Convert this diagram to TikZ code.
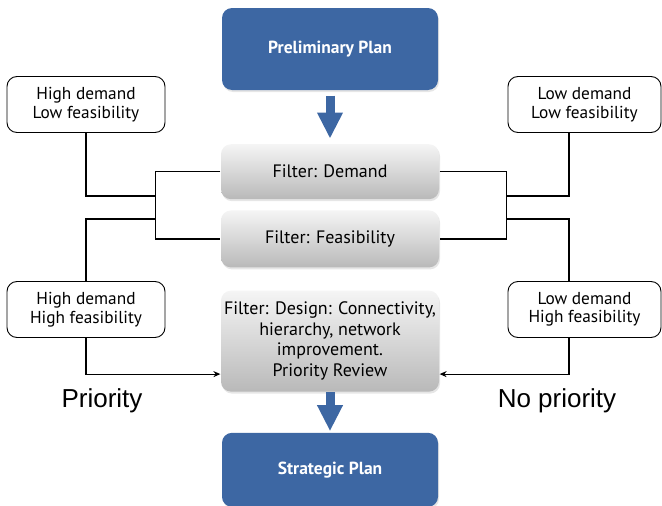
\documentclass[tikz,border=0pt]{standalone}
\usepackage{fontspec}
\setmainfont{PT Sans}
\newfontfamily\labelfont{Liberation Sans}
\usetikzlibrary{positioning,arrows.meta,shadows}
\definecolor{planblue}{RGB}{61,103,163}
\tikzset{
	plan/.style={x=1pt,y=-1pt,line width=1.2pt,>={Stealth[length=7pt,width=6pt]}},
	stage/.style={rectangle,rounded corners=10pt,fill=planblue,text=white,
		minimum width=216pt,minimum height=82pt,font=\fontsize{17.5}{20}\selectfont\bfseries,
		drop shadow={opacity=0.2,shadow xshift=1pt,shadow yshift=-2pt}},
	filter/.style={rectangle,rounded corners=10pt,top color=gray!8,bottom color=gray!55,
		minimum width=218pt,minimum height=56pt,align=center,inner sep=2pt,
		font=\fontsize{18}{20.5}\selectfont,
		drop shadow={opacity=0.2,shadow xshift=1pt,shadow yshift=-2pt}},
	outcome/.style={rectangle,draw,line width=0.9pt,rounded corners=10pt,minimum width=158pt,
		minimum height=56pt,align=center,font=\fontsize{17.3}{18.5}\selectfont},
	note/.style={font=\labelfont\fontsize{26}{30}\selectfont},
	flow/.style={-{Triangle[length=26pt,width=24pt]},line width=9pt,draw=planblue}
}

\begin{document}
\begin{tikzpicture}[plan]
	\useasboundingbox (0,0) rectangle (662,506);

	\node[stage] (prelim) at (330,49) {Preliminary Plan};
	\node[filter, minimum height=55pt] (dem) [below=53pt of prelim] {Filter: Demand};
	\node[filter, minimum height=57pt] (feas) [below=10pt of dem] {Filter: Feasibility};
	\node[filter, minimum height=101pt] (design) [below=22pt of feas]
		{Filter: Design: Connectivity,\\hierarchy, network\\improvement.\\Priority Review};
	\node[stage, minimum height=74pt] (strat) [below=40pt of design] {Strategic Plan};

	\node[outcome] (hl) at (86,104.5) {High demand\\Low feasibility};
	\node[outcome, minimum width=153pt] (ll) at (584.5,104.5) {Low demand\\Low feasibility};
	\node[outcome] (hh) at (86,309.5) {High demand\\High feasibility};
	\node[outcome, minimum width=153pt] (lh) at (584.5,309.5) {Low demand\\High feasibility};

	\node[note] (pri) at (102,401) {Priority};
	\node[note] (nopri) at (557,401) {No priority};

	\coordinate (lup) at (155,196);
	\coordinate (ldown) at (155,219);
	\coordinate (rup) at (506,196);
	\coordinate (rdown) at (506,219);

	\draw[flow, shorten <=5pt, shorten >=5pt] (prelim) -- (dem);
	\draw[flow, shorten <=0pt, shorten >=1pt] (design) -- (strat);

	% left branch
	\draw (dem.west) -- ++(-65,0) |- (feas.west);
	\draw (lup) -| (hl.south);
	\draw (ldown) -| (hh.north);
	\draw[->] (hh.south) |- ([yshift=-33pt]design.west);

	% right branch
	\draw (dem.east) -- ++(67,0) |- (feas.east);
	\draw (rup) -| ([xshift=-15.5pt]ll.south);
	\draw (rdown) -| ([xshift=-15.5pt]lh.north);
	\draw[->] ([xshift=-15.5pt]lh.south) |- ([yshift=-33pt]design.east);

\end{tikzpicture}
\end{document}
